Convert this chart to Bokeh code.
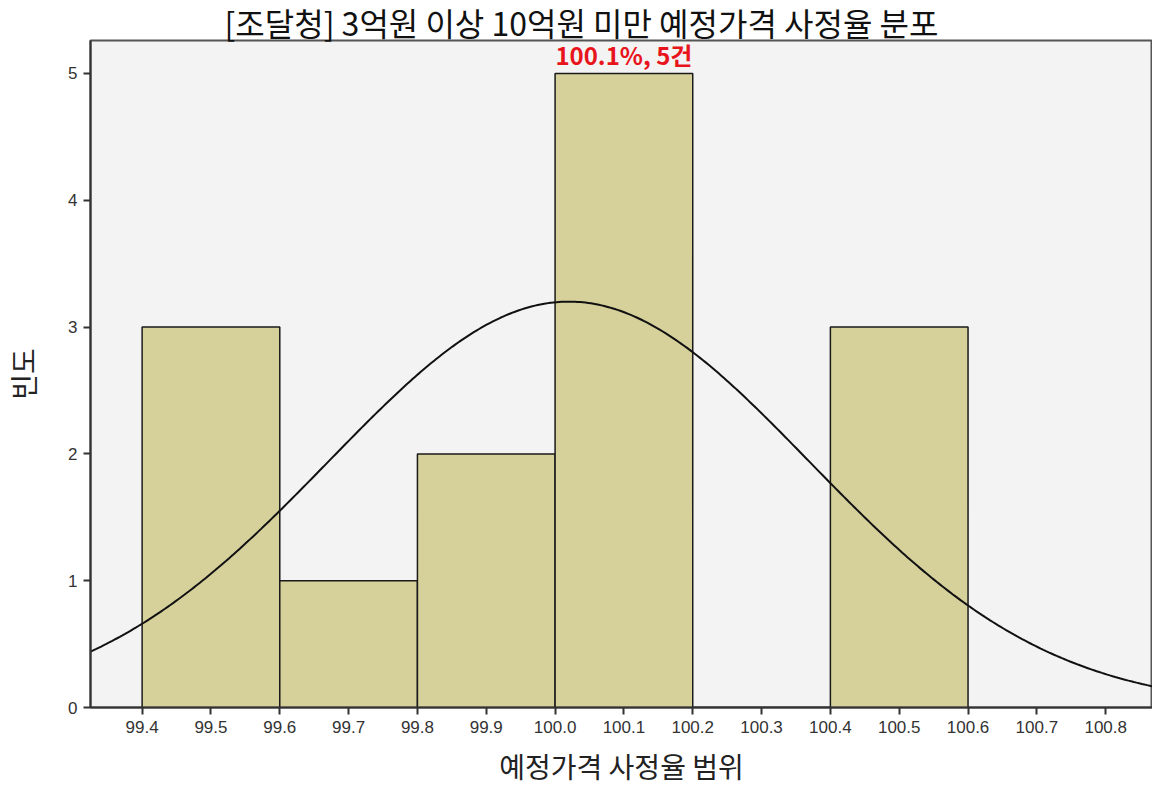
import numpy as np
from bokeh.plotting import figure
from bokeh.models import ColumnDataSource, Label, Title, FixedTicker, CustomJSTickFormatter
from bokeh.embed import file_html
from bokeh.resources import INLINE

# ---- data ----
bin_left = [99.4, 99.6, 99.8, 100.0, 100.2, 100.4]
bin_right = [99.6, 99.8, 100.0, 100.2, 100.4, 100.6]
counts = [3, 1, 2, 5, 0, 3]
x_ticks = [99.4, 99.5, 99.6, 99.7, 99.8, 99.9, 100.0, 100.1, 100.2, 100.3, 100.4, 100.5, 100.6, 100.7, 100.8]
y_ticks = [0, 1, 2, 3, 4, 5]
fit_mean = 100.02
fit_sd = 0.349
n_total = 14
bin_width = 0.2
title_text = "[조달청] 3억원 이상 10억원 미만 예정가격 사정율 분포"
peak_label = "100.1%, 5건"
x_label = "예정가격 사정율 범위"
y_label = "빈도"

FONT = "Noto Sans CJK KR"
X0, X1 = 99.325, 100.868
Y0, Y1 = 0, 5.26

p = figure(width=1152, height=788, output_backend="svg", toolbar_location=None,
           x_range=(X0, X1), y_range=(Y0, Y1),
           min_border_left=85, min_border_right=0, min_border_top=40, min_border_bottom=78)
p.title = None
p.add_layout(Title(text=title_text, align="left", offset=134, standoff=-8,
                   text_font=FONT, text_font_size="32px", text_line_height=0.8,
                   text_font_style="normal", text_color="#111111"), "above")

p.background_fill_color = "#F3F3F3"
p.border_fill_color = "white"
p.outline_line_color = "#555555"
p.outline_line_width = 2
p.grid.visible = False

src = ColumnDataSource(dict(left=bin_left, right=bin_right, top=counts, bottom=[0] * len(counts)))
p.quad(left="left", right="right", top="top", bottom="bottom", source=src,
       fill_color="#D6D09B", line_color="#1a1a1a", line_width=1.5)

xs = np.linspace(X0, X1, 400)
ys = n_total * bin_width * np.exp(-0.5 * ((xs - fit_mean) / fit_sd) ** 2) / (fit_sd * np.sqrt(2 * np.pi))
p.line(xs, ys, line_color="#111111", line_width=2)

p.add_layout(Label(x=100.1, y=5.01, text=peak_label, text_align="center", text_baseline="bottom",
                   text_font=FONT, text_font_size="24px", text_font_style="bold", text_color="#E8141B"))

for ax in (p.xaxis[0], p.yaxis[0]):
    ax.axis_line_color = "#333333"
    ax.axis_line_width = 2
    ax.major_tick_line_color = "#333333"
    ax.major_tick_line_width = 2
    ax.major_tick_out = 7
    ax.major_tick_in = 0
    ax.minor_tick_line_color = None
    ax.major_label_text_font = "Liberation Sans"
    ax.major_label_text_font_size = "17px"
    ax.major_label_text_color = "#333333"
    ax.axis_label_text_font = FONT
    ax.axis_label_text_font_size = "28px"
    ax.axis_label_text_font_style = "normal"
    ax.axis_label_text_color = "#222222"

p.xaxis.ticker = FixedTicker(ticks=x_ticks)
p.xaxis.formatter = CustomJSTickFormatter(code="return tick.toFixed(1);")
p.yaxis.ticker = FixedTicker(ticks=y_ticks)
p.xaxis.axis_label = x_label
p.yaxis.axis_label = y_label
p.xaxis.major_label_standoff = 6
p.xaxis.axis_label_standoff = 10
p.yaxis.major_label_standoff = 6
p.yaxis.axis_label_standoff = 22

open("out.html", "w").write(file_html(p, INLINE))
